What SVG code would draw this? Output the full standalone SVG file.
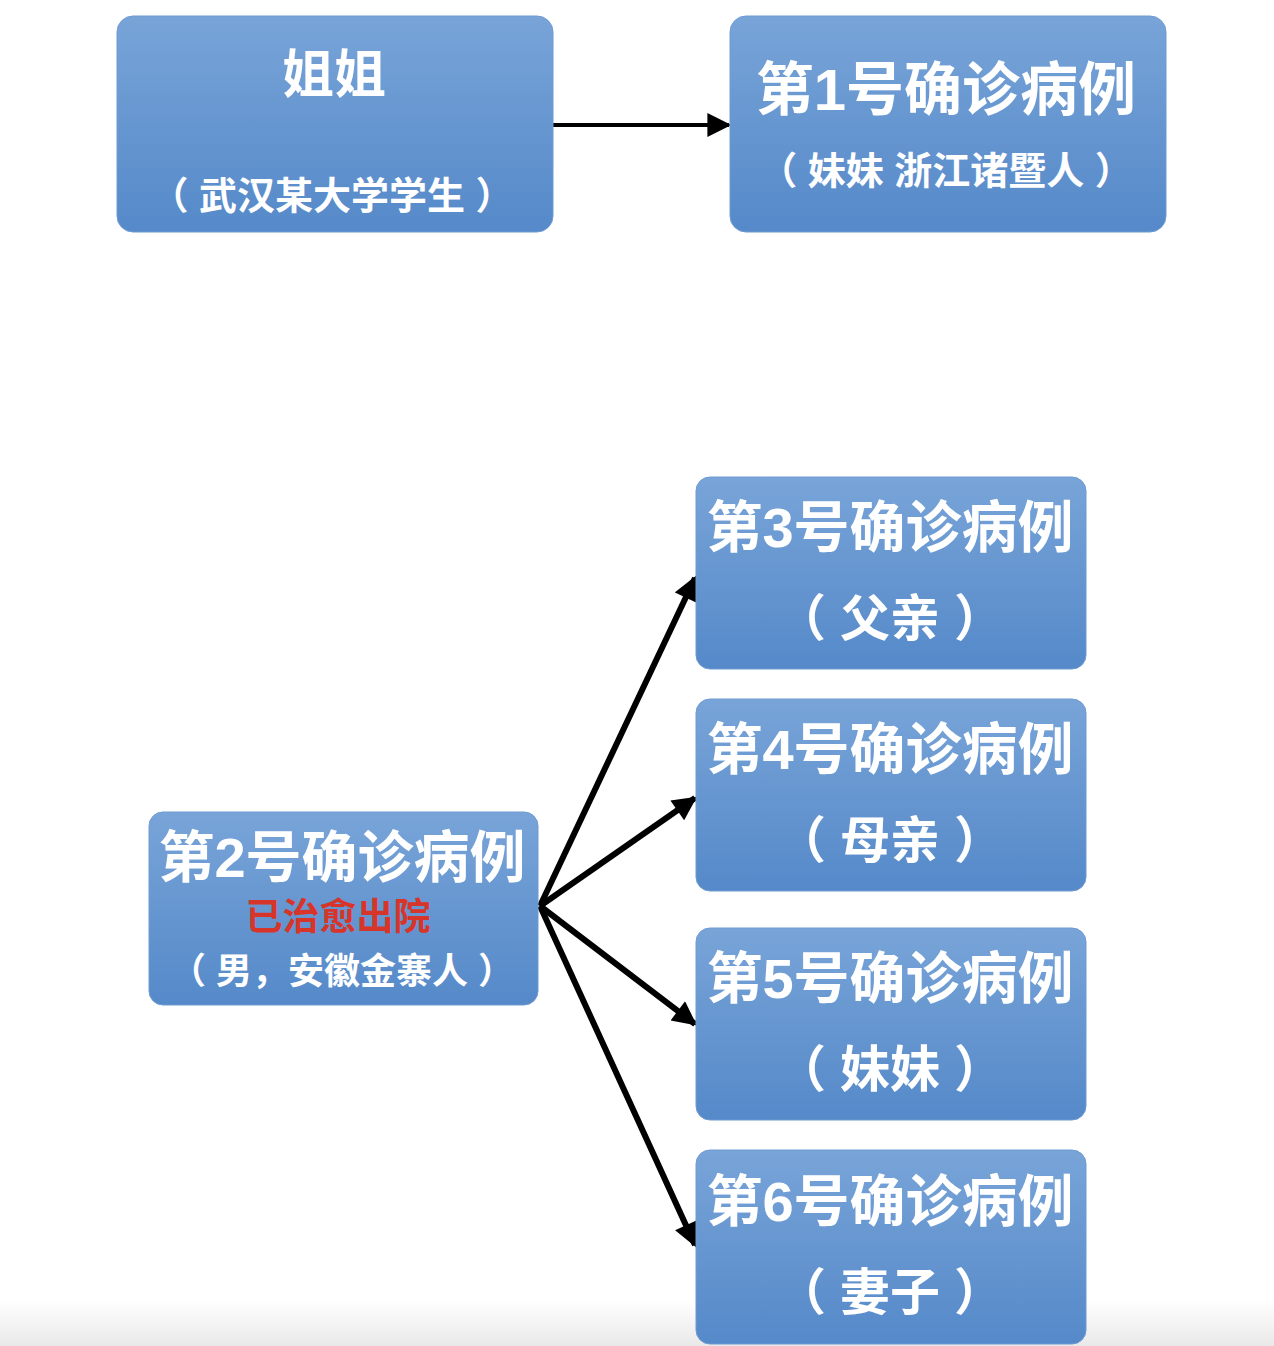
<svg xmlns="http://www.w3.org/2000/svg" width="1274" height="1346" viewBox="0 0 1274 1346">
  <defs>
    <linearGradient id="boxFill" x1="0" y1="0" x2="0" y2="1">
      <stop offset="0" stop-color="#78a4d8"/>
      <stop offset="1" stop-color="#5589c9"/>
    </linearGradient>
    <linearGradient id="floor" x1="0" y1="0" x2="0" y2="1">
      <stop offset="0" stop-color="#ffffff"/>
      <stop offset="1" stop-color="#e9e9e9"/>
    </linearGradient>
    <marker id="arrow" viewBox="0 0 10 10" refX="9" refY="5" markerWidth="26" markerHeight="24" markerUnits="userSpaceOnUse" orient="auto">
      <path d="M0,0 L10,5 L0,10 Z" fill="#000"/>
    </marker>
  </defs>
  <style>
    .box { fill: url(#boxFill); stroke: #6e9bd2; stroke-width: 1; }
    .t { font-family: "Liberation Sans", "Noto Sans CJK SC", sans-serif; font-weight: bold; fill: #ffffff; text-anchor: middle; white-space: pre; }
    .red { fill: #d8352a; }
    .link { stroke: #000; stroke-width: 6; fill: none; marker-end: url(#arrow); }
    .link.thin { stroke-width: 4; }
  </style>

  <rect x="0" y="0" width="1274" height="1346" fill="#ffffff"/>
  <rect x="0" y="1300" width="1274" height="46" fill="url(#floor)"/>

  <g id="connectors">
    <line class="link thin" x1="553" y1="125" x2="729" y2="125"/>
    <line class="link" x1="540" y1="906" x2="695" y2="578"/>
    <line class="link" x1="540" y1="906" x2="695" y2="798"/>
    <line class="link" x1="540" y1="906" x2="695" y2="1024"/>
    <line class="link" x1="540" y1="906" x2="695" y2="1245"/>
  </g>

  <g id="node-sister">
    <rect class="box" x="117" y="16" width="436" height="216" rx="16"/>
    <text class="t" x="334" y="93" font-size="52">姐姐</text>
    <text class="t" x="332" y="209" font-size="38">（ 武汉某大学学生 ）</text>
  </g>

  <g id="node-case1">
    <rect class="box" x="730" y="16" width="436" height="216" rx="16"/>
    <text class="t" x="946" y="110" font-size="58">第1号确诊病例</text>
    <text class="t" x="946" y="184" font-size="38">（ 妹妹 浙江诸暨人 ）</text>
  </g>

  <g id="node-case2">
    <rect class="box" x="149" y="812" width="389" height="193" rx="14"/>
    <text class="t" x="342" y="877" font-size="56">第2号确诊病例</text>
    <text class="t red" x="338" y="930" font-size="37">已治愈出院</text>
    <text class="t" x="342" y="984" font-size="36">（ 男，安徽金寨人 ）</text>
  </g>

  <g id="node-case3">
    <rect class="box" x="696" y="477" width="390" height="192" rx="14"/>
    <text class="t" x="890" y="547" font-size="56">第3号确诊病例</text>
    <text class="t" x="890" y="636" font-size="50">（ 父亲 ）</text>
  </g>

  <g id="node-case4">
    <rect class="box" x="696" y="699" width="390" height="192" rx="14"/>
    <text class="t" x="890" y="769" font-size="56">第4号确诊病例</text>
    <text class="t" x="890" y="858" font-size="50">（ 母亲 ）</text>
  </g>

  <g id="node-case5">
    <rect class="box" x="696" y="928" width="390" height="192" rx="14"/>
    <text class="t" x="890" y="998" font-size="56">第5号确诊病例</text>
    <text class="t" x="890" y="1087" font-size="50">（ 妹妹 ）</text>
  </g>

  <g id="node-case6">
    <rect class="box" x="696" y="1150" width="390" height="194" rx="14"/>
    <text class="t" x="890" y="1221" font-size="56">第6号确诊病例</text>
    <text class="t" x="890" y="1310" font-size="50">（ 妻子 ）</text>
  </g>
</svg>
